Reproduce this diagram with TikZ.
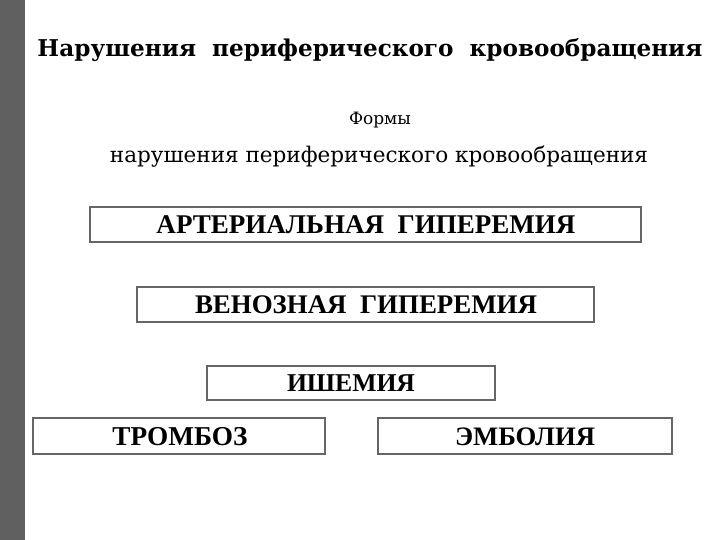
\documentclass[tikz,border=0pt]{standalone}
\usepackage{fontspec}
\setmainfont{Liberation Serif}
\newfontfamily\dvs{DejaVu Serif}
\begin{document}
\begin{tikzpicture}[x=1pt,y=-1pt,
  bx/.style={draw=gray!80!black,line width=1.8pt,fill=white},
  bt/.style={font=\fontsize{22}{24}\selectfont\bfseries,inner sep=0pt}]
\useasboundingbox (0,0) rectangle (720,540);
\fill[white] (0,0) rectangle (720,540);
\fill[gray!75!black] (0,0) rectangle (25,540);
\node[inner sep=0pt] (title) at (370,50) {\resizebox{665pt}{!}{\dvs\bfseries Нарушения\ \ периферического\ \ кровообращения}};
\node[inner sep=0pt] (s1) at (380,120) {\dvs\fontsize{17}{20}\selectfont Формы};
\node[inner sep=0pt] (s2) at (379,157) {\resizebox{538pt}{!}{\dvs нарушения периферического кровообращения}};
\draw[bx] (90,207) rectangle (641,242);
\node[bt] (b1) at (366,225) {\resizebox{419pt}{!}{АРТЕРИАЛЬНАЯ\ \ ГИПЕРЕМИЯ}};
\draw[bx] (137,287) rectangle (594,322);
\node[bt] (b2) at (366,305) {\resizebox{342pt}{!}{ВЕНОЗНАЯ\ \ ГИПЕРЕМИЯ}};
\draw[bx] (207,366) rectangle (495,400);
\node[bt] (b3) at (351,383) {\resizebox{128pt}{!}{ИШЕМИЯ}};
\draw[bx] (33,418) rectangle (325,454);
\node[bt] (b4) at (180,437) {\resizebox{135pt}{!}{ТРОМБОЗ}};
\draw[bx] (378,418) rectangle (672,454);
\node[bt] (b5) at (525,437) {\resizebox{140pt}{!}{ЭМБОЛИЯ}};
\end{tikzpicture}
\end{document}
